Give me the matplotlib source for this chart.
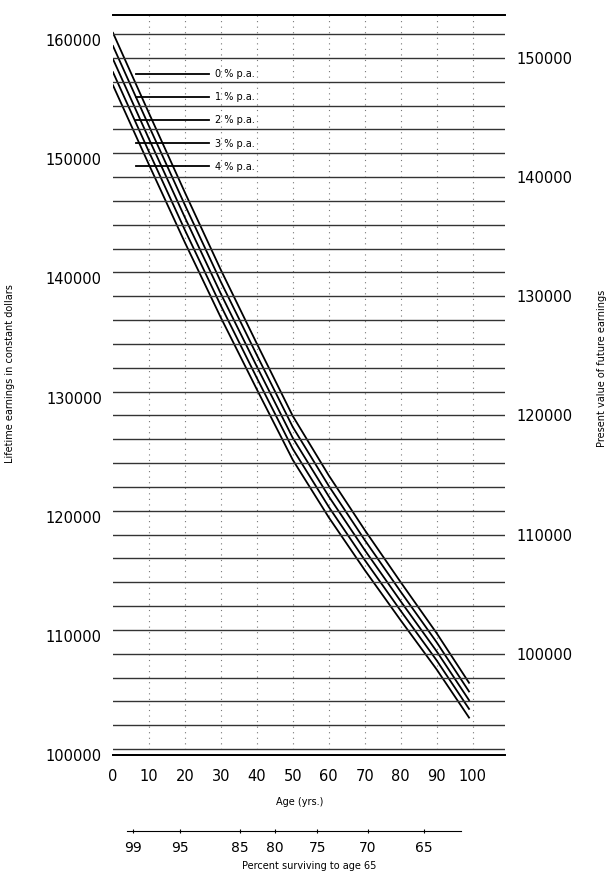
import numpy as np
import matplotlib
matplotlib.use("Agg")
import matplotlib.pyplot as plt

# age axis and the five discount-rate curves
ages = [0, 10, 20, 30, 40, 50, 60, 70, 80, 90, 99]
rate_0 = [160600, 153860, 147200, 140700, 134520, 128440, 123460, 118880, 114500, 110220, 106060]
rate_1 = [159500, 152780, 146150, 139700, 133560, 127520, 122580, 118040, 113700, 109460, 105330]
rate_2 = [158400, 151700, 145100, 138700, 132600, 126600, 121700, 117200, 112900, 108700, 104600]
rate_3 = [157300, 150620, 144050, 137700, 131640, 125680, 120820, 116360, 112100, 107940, 103870]
rate_4 = [156200, 149540, 143000, 136700, 130680, 124760, 119940, 115520, 111300, 107180, 103140]
series = [rate_0, rate_1, rate_2, rate_3, rate_4]
labels = ["0 % p.a.", "1 % p.a.", "2 % p.a.", "3 % p.a.", "4 % p.a."]

x_ticks = [0, 10, 20, 30, 40, 50, 60, 70, 80, 90, 100]
left_ticks = [100000, 110000, 120000, 130000, 140000, 150000, 160000]
right_ticks = [100000, 110000, 120000, 130000, 140000, 150000]

# second scale under the x axis
surv_pos = [5.6, 18.7, 35.4, 45.1, 56.8, 70.8, 86.4]
surv_labels = ["99", "95", "85", "80", "75", "70", "65"]

W, H = 610, 877
fig = plt.figure(figsize=(W / 100, H / 100), dpi=100)
ax = fig.add_axes([113 / W, 1 - 755 / H, 392 / W, 740 / H])
ax.set_xlim(0, 109)
ax.set_ylim(100000, 162100)

ax2 = ax.twinx()
ax2.set_ylim(91500, 153600)
ax2.set_yticks(right_ticks)
ax2.set_yticks(np.arange(92000, 153000, 2000), minor=True)
ax2.grid(which="both", axis="y", color="#333333", lw=1.0)
ax2.tick_params(axis="y", which="both", length=0, pad=8, labelsize=10.5)

# vertical dotted grid at every 10 years
for xv in range(10, 110, 10):
    ax.axvline(xv, color="#777777", lw=0.8, ls=(0, (1, 4)), zorder=1)

for vals, lab in zip(series, labels):
    ax.plot(ages, vals, color="black", lw=1.3, label=lab, zorder=3)

ax.set_xticks(x_ticks)
ax.set_yticks(left_ticks)
ax.tick_params(axis="both", length=0, labelsize=10.5)
ax.tick_params(axis="x", pad=10)
ax.tick_params(axis="y", pad=8)

for a in (ax, ax2):
    a.spines["left"].set_visible(False)
    a.spines["right"].set_visible(False)
    a.spines["top"].set_linewidth(1.3)
    a.spines["bottom"].set_linewidth(1.3)

ax.set_ylabel("Lifetime earnings in constant dollars", fontsize=7)
ax.yaxis.set_label_coords(-0.25, 0.516)
ax2.set_ylabel("Present value of future earnings", fontsize=7)
ax2.yaxis.set_label_coords(1.235, 0.523)
ax.set_xlabel("Age (yrs.)", fontsize=7)
ax.xaxis.set_label_coords(0.477, -0.057)

ax.legend(loc="upper left", bbox_to_anchor=(0.05, 0.932), frameon=False,
          fontsize=7, handlelength=7.5, labelspacing=1.35, handletextpad=0.6,
          borderaxespad=0)

# secondary survival scale
ax3 = fig.add_axes([113 / W, 1 - 831 / H, 392 / W, 0.0001])
ax3.set_xlim(0, 109)
ax3.set_yticks([])
for s in ("left", "right", "top"):
    ax3.spines[s].set_visible(False)
ax3.spines["bottom"].set_bounds(3.9, 96.7)
ax3.set_xticks(surv_pos)
ax3.set_xticklabels(surv_labels)
ax3.tick_params(axis="x", length=3, direction="inout", labelsize=10, pad=6)
ax3.set_xlabel("Percent surviving to age 65", fontsize=7, labelpad=4)

fig.savefig("out.png", dpi=100)
